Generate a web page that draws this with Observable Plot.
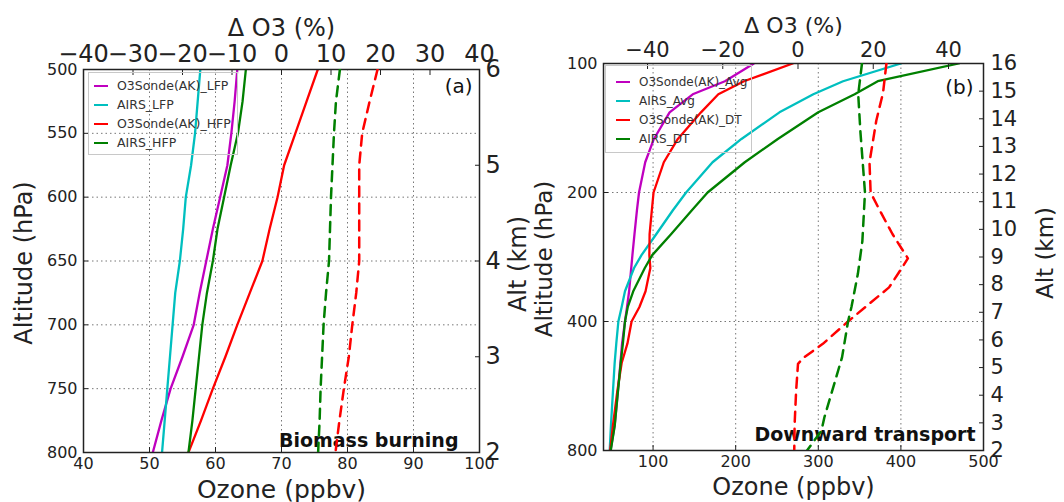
<!DOCTYPE html>
<html><head><meta charset="utf-8">
<script src="https://cdn.jsdelivr.net/npm/d3@7"></script>
<script src="https://cdn.jsdelivr.net/npm/@observablehq/plot@0.6"></script>
<style>
html,body{margin:0;padding:0;background:#fff;}
#chart{position:relative;width:1064px;height:502px;overflow:hidden;font-family:"DejaVu Sans",sans-serif;}
.legend{position:absolute;background:transparent;border:1px solid #c8c8c8;box-sizing:border-box;}
.legend .row{position:absolute;left:0;height:16px;white-space:nowrap;color:#333;}
.legend .sw{position:absolute;top:7px;height:2.2px;}
.legend .lb{position:absolute;top:0;line-height:16px;}
</style></head><body><div id="chart"></div><script>
// ---------- Panel (a): Biomass burning ----------
const pressureA = [500,525,550,575,600,625,650,675,700,725,750,775,800];
const sondeLFP  = [63.3,62.9,62.4,61.8,60.7,59.6,58.6,57.6,56.7,55.0,53.2,51.8,50.5];
const airsLFP   = [57.7,57.3,56.9,56.3,55.5,55.1,54.6,53.9,53.5,53.1,52.7,52.3,51.9];
const sondeHFP  = [75.5,73.8,72.1,70.4,69.4,68.2,67.1,65.2,63.3,61.5,59.6,57.8,55.9];
const airsHFP   = [64.6,64.1,63.4,62.3,61.3,60.3,59.6,58.7,58.0,57.5,57.0,56.5,55.9];
const dSondeHFP = [19.4,17.8,16.3,15.7,15.7,15.7,15.7,15.1,14.3,13.6,12.6,11.7,10.9];
const dAirsHFP  = [11.8,11.0,10.6,10.3,10.0,9.8,9.6,9.0,8.5,8.2,7.9,7.7,7.4];
const ozoneTicksA = [40,50,60,70,80,90,100];
const deltaTicksA = [-40,-30,-20,-10,0,10,20,30,40];
const hpaTicksA = [500,550,600,650,700,750,800];
const kmTicksA = [2,3,4,5,6];
const legendA = ["O3Sonde(AK)_LFP","AIRS_LFP","O3Sonde(AK)_HFP","AIRS_HFP"];

// ---------- Panel (b): Downward transport ----------
const pressureB = [100,110,118,130,150,170,200,220,250,280,300,340,370,400,450,500,580,700,800];
const sondeAvg  = [222,187,148,120,101,90.5,83,80.5,77.5,75,73.6,71,68.5,66,62.5,60.5,57.5,53.5,48.5];
const airsAvg   = [400,330,294,253,207,172,140,124,104,86,77,66,62,58,55.5,53.5,51.5,49,47.5];
const sondeDT   = [269,210,179,158,130,113,100.6,98.5,95.8,95.5,96.7,90.9,83.5,74,69,62,56.8,51.4,48];
const airsDT    = [470,372,344,300,251,211,166,147,122,99,90,76,69.4,66,63.5,60.8,57.6,53.6,48.8];
const pressureDSonde = [100,117,136,170,200,220,250,285,300,333,367,400,451,485,502,580,694,800];
const dSondeDT  = [23.5,22.6,20.8,19.0,19.3,21.7,25.1,29.2,27.6,24.2,18.4,13.3,6.6,1.6,0,-0.5,-0.9,-1.0];
const pressureDAirs = [100,118,145,200,260,310,370,400,485,580,670,720,800];
const dAirsDT   = [17,16,16.6,17.8,17.1,15.9,14.2,13.3,11.7,9.1,7.0,6.2,2.4];
const ozoneTicksB = [100,200,300,400,500];
const deltaTicksB = [-40,-20,0,20,40];
const hpaTicksB = [100,200,400,800];
const kmTicksB = [2,3,4,5,6,7,8,9,10,11,12,13,14,15,16];
const legendB = ["O3Sonde(AK)_Avg","AIRS_Avg","O3Sonde(AK)_DT","AIRS_DT"];

const colors = ["#bf00bf","#00bfbf","#ff0000","#008000"];

const chart = document.getElementById("chart");
const style = {fontFamily:"'DejaVu Sans', sans-serif", background:"transparent", overflow:"visible", color:"#222"};
const minus = d => d < 0 ? "\u2212" + Math.abs(d) : String(d);
const plain = d => String(d);
function mount(el, left){ el.style.position="absolute"; el.style.left=left+"px"; el.style.top="0px"; chart.append(el); }
const solid = (vals, ps, c) => Plot.line(vals, {x: d=>d, y: (d,i)=>ps[i], stroke: c, strokeWidth: 2.3, clip: true});
const dashed = (vals, ps, c) => Plot.line(vals, {x: d=>d, y: (d,i)=>ps[i], stroke: c, strokeWidth: 2.5, strokeDasharray: "10,7", clip: true});
const gridStyle = {stroke:"#777", strokeOpacity:1, strokeWidth:1, strokeDasharray:"1.5,3"};
const vlabel = (t, anchor, dx, dy, fs) => Plot.text([t], {frameAnchor: anchor, textAnchor:"middle", lineAnchor:"middle", dx, dy, rotate:-90, fontSize: fs, fill:"#222"});

// ===== Panel a layers =====
const dimA = {width:532, height:502, marginLeft:83, marginRight:53, marginTop:69, marginBottom:50};
mount(Plot.plot({
  ...dimA, style,
  x: {domain:[40,100]},
  y: {domain:[500,800], reverse:true},
  marks: [
    Plot.gridX([50,60,70,80,90], gridStyle),
    Plot.gridY([550,600,650,700,750], gridStyle),
    solid(sondeLFP, pressureA, colors[0]),
    solid(airsLFP, pressureA, colors[1]),
    solid(sondeHFP, pressureA, colors[2]),
    solid(airsHFP, pressureA, colors[3]),
    Plot.axisX({anchor:"bottom", ticks: ozoneTicksA, tickFormat: plain, tickSize:-5, tickPadding:10, fontSize:16, label:null}),
    Plot.axisY({anchor:"left", ticks: hpaTicksA, tickFormat: plain, tickSize:-5, tickPadding:11, fontSize:16, label:null}),
    Plot.frame({stroke:"#222", strokeWidth:1.5}),
    Plot.text(["Ozone (ppbv)"], {frameAnchor:"bottom", textAnchor:"middle", lineAnchor:"middle", dy:37, fontSize:25, fill:"#222"}),
    vlabel("Altitude (hPa)", "left", -59, 2, 24),
    Plot.text(["(a)"], {frameAnchor:"top-right", textAnchor:"end", lineAnchor:"middle", dx:-7, dy:17, fontSize:20, fill:"#111"}),
    Plot.text(["Biomass burning"], {frameAnchor:"bottom-right", textAnchor:"end", lineAnchor:"middle", dx:-21, dy:-12, fontSize:19, fontWeight:"bold", fill:"#111"})
  ]
}), 0);
mount(Plot.plot({
  ...dimA, style,
  x: {domain:[-40,40]},
  y: {domain:[500,800], reverse:true, axis:null},
  marks: [
    dashed(dSondeHFP, pressureA, colors[2]),
    dashed(dAirsHFP, pressureA, colors[3]),
    Plot.axisX({anchor:"top", ticks: deltaTicksA, tickFormat: minus, tickSize:-5, tickPadding:13, fontSize:24, label:null}),
    Plot.text(["\u0394 O3 (%)"], {frameAnchor:"top", textAnchor:"middle", lineAnchor:"middle", dy:-41, fontSize:24, fill:"#222"})
  ]
}), 0);
mount(Plot.plot({
  ...dimA, style,
  y: {domain:[2,6]},
  marks: [
    Plot.axisY({anchor:"right", ticks: kmTicksA, tickFormat: plain, tickSize:-5, tickPadding:11, fontSize:24, label:null}),
    vlabel("Alt (km)", "right", 39, 3, 24)
  ]
}), 0);

// ===== Panel b layers =====
const dimB = {width:532, height:502, marginLeft:71, marginRight:81, marginTop:63, marginBottom:52};
mount(Plot.plot({
  ...dimB, style,
  x: {domain:[40,500]},
  y: {type:"log", domain:[100,800], reverse:true},
  marks: [
    Plot.gridX([100,200,300,400], gridStyle),
    Plot.gridY([200,400], gridStyle),
    solid(sondeAvg, pressureB, colors[0]),
    solid(airsAvg, pressureB, colors[1]),
    solid(sondeDT, pressureB, colors[2]),
    solid(airsDT, pressureB, colors[3]),
    Plot.axisX({anchor:"bottom", ticks: ozoneTicksB, tickFormat: plain, tickSize:-5, tickPadding:10, fontSize:16, label:null}),
    Plot.axisY({anchor:"left", ticks: hpaTicksB, tickFormat: plain, tickSize:-5, tickPadding:11, fontSize:16, label:null}),
    Plot.frame({stroke:"#222", strokeWidth:1.5}),
    Plot.text(["Ozone (ppbv)"], {frameAnchor:"bottom", textAnchor:"middle", lineAnchor:"middle", dy:37, fontSize:24, fill:"#222"}),
    vlabel("Altitude (hPa)", "left", -59, 2, 23),
    Plot.text(["(b)"], {frameAnchor:"top-right", textAnchor:"end", lineAnchor:"middle", dx:-10, dy:24, fontSize:20, fill:"#111"}),
    Plot.text(["Downward transport"], {frameAnchor:"bottom-right", textAnchor:"end", lineAnchor:"middle", dx:-8, dy:-16, fontSize:19, fontWeight:"bold", fill:"#111"})
  ]
}), 532);
mount(Plot.plot({
  ...dimB, style,
  x: {domain:[-51.7,49.3]},
  y: {type:"log", domain:[100,800], reverse:true, axis:null},
  marks: [
    dashed(dSondeDT, pressureDSonde, colors[2]),
    dashed(dAirsDT, pressureDAirs, colors[3]),
    Plot.axisX({anchor:"top", ticks: deltaTicksB, tickFormat: minus, tickSize:-5, tickPadding:12, fontSize:21, label:null}),
    Plot.text(["\u0394 O3 (%)"], {frameAnchor:"top", textAnchor:"middle", lineAnchor:"middle", dy:-38, fontSize:22, fill:"#222"})
  ]
}), 532);
mount(Plot.plot({
  ...dimB, style,
  y: {domain:[2,16]},
  marks: [
    Plot.axisY({anchor:"right", ticks: kmTicksB, tickFormat: plain, tickSize:-5, tickPadding:12, fontSize:21, label:null}),
    vlabel("Alt (km)", "right", 62, -4, 23)
  ]
}), 532);

// ===== Legends =====
function legend(names, box, rows, lineX, textX, fs){
  const div = document.createElement("div");
  div.className = "legend";
  Object.assign(div.style, {left:box[0]+"px", top:box[1]+"px", width:box[2]+"px", height:box[3]+"px"});
  names.forEach((n,i)=>{
    const r = document.createElement("div");
    r.className = "row"; r.style.top = (rows[i]-8)+"px"; r.style.width = "100%";
    const s = document.createElement("div");
    s.className = "sw"; Object.assign(s.style, {left:lineX[0]+"px", width:(lineX[1]-lineX[0])+"px", background: colors[i]});
    const t = document.createElement("div");
    t.className = "lb"; Object.assign(t.style, {left:textX+"px", fontSize: fs+"px"}); t.textContent = n;
    r.append(s, t); div.append(r);
  });
  chart.append(div);
}
legend(legendA, [88,72,150,83], [13,32,51,70], [5,19], 28, 12.5);
legend(legendB, [605,65,147,88], [16,35,54,73], [10,24], 33, 12);
</script></body></html>
